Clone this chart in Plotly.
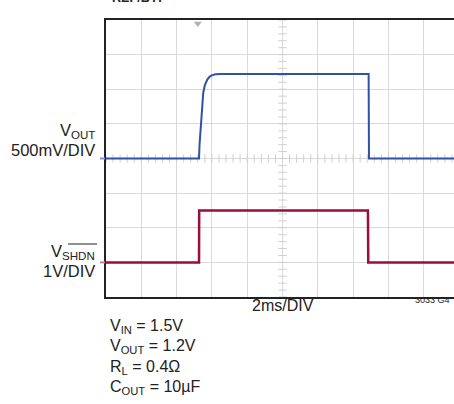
import plotly.graph_objects as go

# time axis: 2ms/DIV, 10 divisions
t_vout = [0, 5.27, 5.30, 5.37, 5.44, 5.51, 5.60, 5.74, 5.86, 5.99, 6.20, 6.50, 14.88, 14.90, 20]
v_vout = [0, 0, 0.20, 0.47, 0.75, 0.95, 1.06, 1.14, 1.18, 1.20, 1.215, 1.22, 1.22, 0, 0]

t_shdn = [0, 5.27, 5.28, 14.84, 14.86, 20]
v_shdn = [0, 0, 1.5, 1.5, 0, 0]

notes = ["V<sub>IN</sub> = 1.5V", "V<sub>OUT</sub> = 1.2V",
         "R<sub>L</sub> = 0.4Ω", "C<sub>OUT</sub> = 10µF"]

W, H = 454, 404
L, T, R = 106, 20, 0
B = H - 297
PW, PH = W - L - R, H - T - B
DIV = 35.3  # pixels per horizontal division, graticule runs past the right edge
FONT = "Liberation Sans, Arial, sans-serif"


def px(x):
    return (x - L) / PW


def py(y):
    return 1 - (y - T) / PH


# scope scale: VOUT 500mV/DIV on centre line, SHDN 1V/DIV three divs lower
y_vout = [v / 0.5 for v in v_vout]
y_shdn = [v / 1.0 - 3 for v in v_shdn]

fig = go.Figure()

# graticule minor ticks on the centre lines
fig.add_trace(go.Scatter(
    x=[10] * 41, y=[-4 + 0.2 * i for i in range(41)], mode="markers",
    marker=dict(symbol="line-ew-open", size=6, color="#cfcfcf", line=dict(width=1, color="#cfcfcf")),
    hoverinfo="skip", showlegend=False))
fig.add_trace(go.Scatter(
    x=[0.4 * i for i in range(51)], y=[0] * 51, mode="markers",
    marker=dict(symbol="line-ns-open", size=6, color="#cfcfcf", line=dict(width=1, color="#cfcfcf")),
    hoverinfo="skip", showlegend=False))

fig.add_trace(go.Scatter(x=t_shdn, y=y_shdn, mode="lines",
                         line=dict(color="#9b0d3a", width=2.5), showlegend=False))
fig.add_trace(go.Scatter(x=t_vout, y=y_vout, mode="lines",
                         line=dict(color="#3450a2", width=2), showlegend=False))

# trigger marker
fig.add_trace(go.Scatter(x=[5.2], y=[3.9], mode="markers",
                         marker=dict(symbol="triangle-down", size=7, color="#b0b0b0"),
                         cliponaxis=False, showlegend=False, hoverinfo="skip"))

fig.update_layout(
    width=W, height=H, margin=dict(l=L, r=R, t=T, b=B),
    paper_bgcolor="white", plot_bgcolor="white",
    font=dict(family=FONT, size=16, color="#222"),
    xaxis=dict(range=[0, 2 * PW / DIV], dtick=2, showgrid=True, gridcolor="#d9d9d9", gridwidth=1,
               zeroline=False, showticklabels=False, ticks="",
               showline=True, linecolor="#222", linewidth=2, mirror=True),
    yaxis=dict(range=[-4, 4], dtick=1, showgrid=True, gridcolor="#d9d9d9", gridwidth=1,
               zeroline=False, showticklabels=False, ticks="",
               showline=True, linecolor="#222", linewidth=2),
)

ann = [
    dict(text="V<sub>OUT</sub>", x=px(97), y=py(131)),
    dict(text="500mV/DIV", x=px(97), y=py(150)),
    dict(text="V<sub>SHDN</sub>", x=px(97), y=py(252)),
    dict(text="1V/DIV", x=px(97), y=py(271)),
]
for a in ann:
    fig.add_annotation(xref="paper", yref="paper", xanchor="right", yanchor="middle",
                       showarrow=False, font=dict(size=16.5), **a)

fig.add_annotation(text="2ms/DIV", xref="paper", yref="paper", x=px(283), y=py(305),
                   xanchor="center", yanchor="middle", showarrow=False, font=dict(size=16))
fig.add_annotation(text="3033 G4", xref="paper", yref="paper", x=px(452), y=py(300),
                   xanchor="right", yanchor="middle", showarrow=False, font=dict(size=9))
for i, n in enumerate(notes):
    fig.add_annotation(text=n, xref="paper", yref="paper", x=px(108), y=py(326 + 20.5 * i),
                       xanchor="left", yanchor="middle", showarrow=False, font=dict(size=16))

# clipped channel title at the top edge
fig.add_annotation(text="<b>V<sub>REF/BYP</sub></b>", xref="paper", yref="paper",
                   x=px(98), y=py(7), xanchor="left", yanchor="bottom",
                   showarrow=False, font=dict(size=18))

# overline on SHDN
fig.add_shape(type="line", xref="paper", yref="paper", x0=px(68), x1=px(97),
              y0=py(244), y1=py(244), line=dict(color="#222", width=1))
# channel ground markers
fig.add_shape(type="line", xref="paper", yref="y", x0=px(100), x1=px(105), y0=0, y1=0,
              line=dict(color="#8095cc", width=2))
fig.add_shape(type="line", xref="paper", yref="y", x0=px(100), x1=px(105), y0=-3, y1=-3,
              line=dict(color="#d07f90", width=2))

fig.write_html("out.html", config={"displayModeBar": False},
               post_script="document.body.style.margin='0';document.body.style.overflow='hidden';")
